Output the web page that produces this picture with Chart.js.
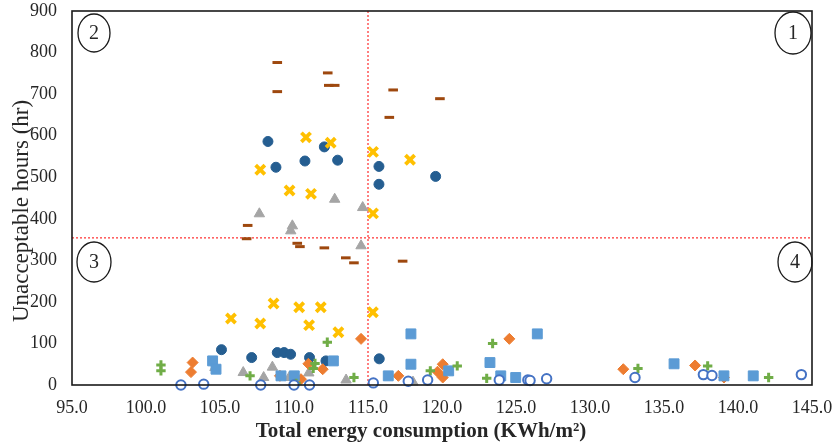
<!DOCTYPE html>
<html>
<head>
<meta charset="utf-8">
<script src="https://cdn.jsdelivr.net/npm/chart.js@4.4.0/dist/chart.umd.min.js"></script>
<style>
  body { margin: 0; background: #fff; }
  canvas { display: block; }
</style>
</head>
<body>
<canvas id="energyChart" width="834" height="448"></canvas>
<script>
  // x = total energy consumption, y = unacceptable hours
  const darkBlueCircles = [
    [108.24, 586], [108.78, 524], [110.74, 539], [112.05, 573], [112.95, 541], [115.74, 526], [115.74, 483], [119.57, 502],
    [105.1, 85], [107.14, 66], [108.87, 78], [109.33, 78], [109.77, 74], [111.05, 66], [112.16, 58], [115.76, 63]
  ];
  const brownDashes = [
    [108.87, 776], [112.28, 751], [112.35, 721], [112.75, 721], [108.87, 706], [116.7, 710], [119.86, 689], [116.44, 644],
    [106.87, 384], [106.8, 352], [110.22, 341], [110.4, 333], [112.05, 330], [113.5, 306], [114.05, 294], [117.34, 298]
  ];
  const yellowCrosses = [
    [110.81, 596], [112.48, 583], [115.34, 561], [117.84, 542], [107.72, 518], [109.7, 468], [111.15, 460], [115.34, 413],
    [105.74, 160], [108.62, 196], [107.72, 148], [110.35, 187], [111.81, 187], [111.02, 144], [113.0, 127], [115.33, 175]
  ];
  const grayTriangles = [
    [107.66, 412], [109.89, 383], [109.78, 371], [112.75, 447], [114.64, 427], [114.53, 335],
    [104.66, 42], [106.57, 30], [107.95, 18], [108.54, 43], [109.68, 18], [111.0, 29], [113.52, 12], [118.04, 7]
  ];
  const orangeDiamonds = [
    [103.15, 54], [103.04, 31], [109.05, 22], [110.47, 14], [111.94, 38], [110.97, 51], [114.53, 111], [117.05, 22],
    [120.05, 50], [120.05, 18], [119.7, 32], [124.55, 111], [132.25, 38], [137.1, 47], [139.05, 18]
  ];
  const blueSquares = [
    [104.5, 58], [104.73, 38], [109.12, 22], [110.02, 22], [112.66, 58], [116.37, 22], [117.9, 123], [117.9, 50],
    [120.45, 34], [123.24, 54], [123.97, 22], [124.98, 18], [126.44, 123], [135.68, 51], [139.05, 22], [141.03, 22]
  ];
  const greenPluses = [
    [101.01, 48], [101.01, 34], [107.03, 22], [110.14, 4], [111.3, 40], [111.42, 52], [112.25, 103], [114.05, 18],
    [119.21, 34], [121.03, 46], [123.42, 100], [123.02, 16], [133.24, 40], [137.95, 46], [142.07, 18]
  ];
  const openCircles = [
    [102.36, 0], [103.9, 2], [107.75, 0], [110.0, 0], [111.05, 0], [115.36, 5], [117.72, 9], [119.03, 12],
    [123.87, 12], [125.8, 12], [125.95, 11], [127.07, 15], [133.04, 18], [137.66, 25], [138.24, 23], [144.28, 25]
  ];

  // red reference lines
  const limitEnergy = 115;
  const limitHours = 354;

  const xMin = 95, xMax = 145, xStep = 5;
  const yMin = 0, yMax = 900, yStep = 100;

  const xTitle = 'Total energy consumption (KWh/m²)';
  const yTitle = 'Unacceptable hours (hr)';
  const quadrantLabels = ['1', '2', '3', '4'];

  const toPoints = arr => arr.map(p => ({ x: p[0], y: p[1] }));

  function markerSet(label, data, style, color, radius, border, fill) {
    return {
      label: label,
      data: toPoints(data),
      pointStyle: style,
      pointRadius: radius,
      pointBorderWidth: border,
      borderColor: color,
      backgroundColor: fill || color,
      clip: false
    };
  }

  const serif = '"Liberation Serif", "DejaVu Serif", serif';
  const textColor = '#262626';

  // frame, axis titles (Excel centres them off the plot centre) and circled quadrants
  const frameAndQuadrants = {
    id: 'frameAndQuadrants',
    afterDraw(chart) {
      const ctx = chart.ctx;
      const a = chart.chartArea;
      ctx.save();
      ctx.strokeStyle = '#1a1a1a';
      ctx.lineWidth = 1.6;
      ctx.strokeRect(a.left, a.top, a.right - a.left, a.bottom - a.top);

      ctx.fillStyle = textColor;
      ctx.textAlign = 'center';
      ctx.textBaseline = 'middle';
      ctx.font = 'bold 21px ' + serif;
      ctx.fillText(xTitle, a.left + 349, a.bottom + 47);
      ctx.save();
      ctx.translate(22, a.top + 200);
      ctx.rotate(-Math.PI / 2);
      ctx.font = '23px ' + serif;
      ctx.fillText(yTitle, 0, 0);
      ctx.restore();

      const spots = [
        [a.right - 19, a.top + 22, 18, 21],
        [a.left + 22, a.top + 22, 16, 19],
        [a.left + 22, a.top + 251, 17, 20],
        [a.right - 17, a.top + 251, 17, 20]
      ];
      ctx.lineWidth = 1.3;
      ctx.font = '20px ' + serif;
      spots.forEach((s, i) => {
        ctx.beginPath();
        ctx.ellipse(s[0], s[1], s[2], s[3], 0, 0, Math.PI * 2);
        ctx.stroke();
        ctx.fillText(quadrantLabels[i], s[0], s[1] + 1);
      });
      ctx.restore();
    }
  };

  const energyChart = document.getElementById('energyChart');

  const myChartEnergy = new Chart(energyChart, {
    type: 'scatter',
    data: {
      datasets: [
        markerSet('Open', openCircles, 'circle', '#4472C4', 4.7, 2, '#ffffff'),
        markerSet('Plus', greenPluses, 'cross', '#70AD47', 4.7, 3),
        markerSet('Square', blueSquares, 'rect', '#5B9BD5', 7, 1),
        markerSet('Diamond', orangeDiamonds, 'rectRot', '#ED7D31', 5.5, 1),
        markerSet('Triangle', grayTriangles, 'triangle', '#A5A5A5', 6, 1),
        markerSet('Cross', yellowCrosses, 'crossRot', '#FFC000', 6.5, 3.8),
        markerSet('Dash', brownDashes, 'line', '#9E480E', 4.8, 3),
        markerSet('Circle', darkBlueCircles, 'circle', '#255E91', 5, 1),
        {
          label: 'limitEnergy',
          data: [{ x: limitEnergy, y: yMin }, { x: limitEnergy, y: yMax }],
          showLine: true,
          pointRadius: 0,
          borderColor: '#ff0000',
          borderWidth: 1,
          borderDash: [2, 2],
          order: 10
        },
        {
          label: 'limitHours',
          data: [{ x: xMin, y: limitHours }, { x: xMax, y: limitHours }],
          showLine: true,
          pointRadius: 0,
          borderColor: '#ff0000',
          borderWidth: 1,
          borderDash: [2, 2],
          order: 10
        }
      ]
    },
    options: {
      responsive: false,
      animation: false,
      layout: {
        padding: { top: 11, right: 22, bottom: 0, left: 0 }
      },
      plugins: {
        legend: { display: false },
        tooltip: { enabled: false }
      },
      scales: {
        x: {
          type: 'linear',
          min: xMin,
          max: xMax,
          afterFit: s => { s.height = 63; s.paddingLeft = 0; s.paddingRight = 0; },
          grid: { display: false, drawTicks: false },
          border: { display: false },
          ticks: {
            stepSize: xStep,
            padding: 12,
            color: textColor,
            font: { family: serif, size: 18 },
            callback: v => v.toFixed(1)
          }
        },
        y: {
          min: yMin,
          max: yMax,
          afterFit: s => { s.width = 72; s.paddingTop = 0; s.paddingBottom = 0; },
          grid: { display: false, drawTicks: false },
          border: { display: false },
          ticks: {
            stepSize: yStep,
            padding: 15,
            color: textColor,
            font: { family: serif, size: 18 }
          }
        }
      }
    },
    plugins: [frameAndQuadrants]
  });
</script>
</body>
</html>
